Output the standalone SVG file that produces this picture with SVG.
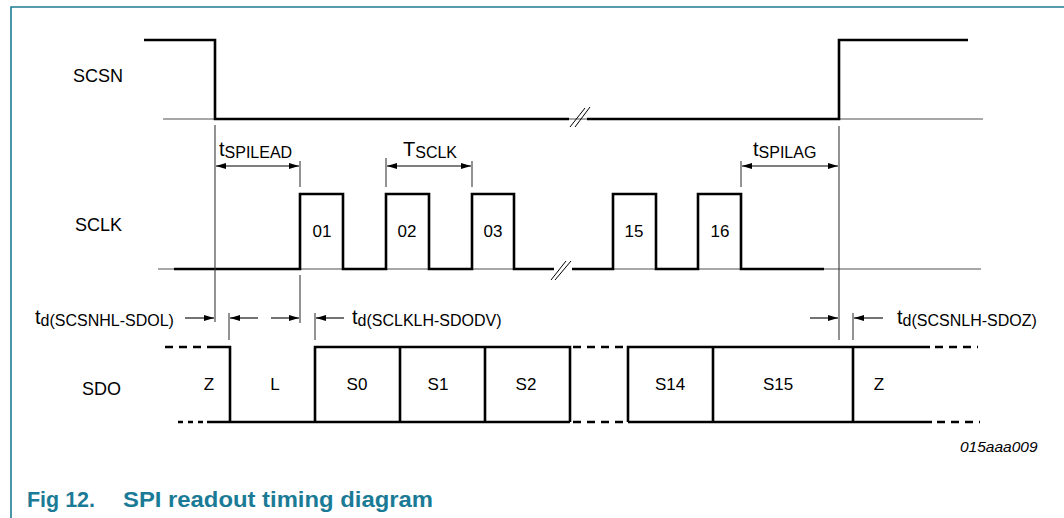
<svg xmlns="http://www.w3.org/2000/svg" width="1064" height="518" viewBox="0 0 1064 518">
<defs>
<style>
.lbl{font-family:"Liberation Sans",Arial,sans-serif;font-size:18px;fill:#000}
.num{font-family:"Liberation Sans",Arial,sans-serif;font-size:17px;fill:#000;text-anchor:middle}
.t{font-family:"Liberation Sans",Arial,sans-serif;font-size:20px;fill:#000}
.sub{font-size:16px}
.sig{fill:none;stroke:#000;stroke-width:2.6;stroke-linejoin:miter;stroke-linecap:butt}
.base{fill:none;stroke:#8a8a8a;stroke-width:1.6}
.vl{fill:none;stroke:#3a3a3a;stroke-width:1.1}
.arr{fill:none;stroke:#000;stroke-width:1.1}
.dash{fill:none;stroke:#000;stroke-width:2.6;stroke-dasharray:8 6}
.brk{fill:none;stroke:#000;stroke-width:1}
</style>
<marker id="ah" viewBox="0 0 10 6" refX="10" refY="3" markerWidth="10" markerHeight="6" markerUnits="userSpaceOnUse" orient="auto-start-reverse">
<path d="M0,0 L10,3 L0,6 Z" fill="#000"/>
</marker>
</defs>
<rect width="1064" height="518" fill="#fff"/>
<g id="frame">
<path d="M11,518 V7 H1064" fill="none" stroke="#1f7b93" stroke-width="1.6"/>
</g>
<g id="scsn">
<text class="lbl" x="73" y="82">SCSN</text>
<path class="base" d="M163,119 H983"/>
<path class="sig" d="M144,40 H215 V119 H569"/>
<path class="sig" d="M587,119 H839 V40 H968"/>
<path class="brk" d="M570,127 L585,108 M575,127 L590,107"/>
</g>
<g id="sclk">
<text class="lbl" x="75" y="231">SCLK</text>
<path class="base" d="M158,269 H554 M572,269 H981"/>
<path class="sig" d="M174,269 H300 V194 H343 V269 H386 V194 H429 V269 H472 V194 H514 V269 H554"/>
<path class="sig" d="M572,269 H613 V194 H656 V269 H698 V194 H741 V269 H824"/>
<path class="brk" d="M551,280 L566,261 M555,280 L571,261"/>
<text class="num" x="322" y="237">01</text>
<text class="num" x="407" y="237">02</text>
<text class="num" x="493" y="237">03</text>
<text class="num" x="634" y="237">15</text>
<text class="num" x="720" y="237">16</text>
</g>
<g id="sdo">
<text class="lbl" x="82" y="395">SDO</text>
<path class="dash" d="M165,347 H207"/>
<path class="dash" d="M178,422 H207" style="stroke-dasharray:5 5"/>
<path class="sig" d="M207,347 H230 V422 M207,422 H570 M315,422 V347 H570 V422 M400,347 V422 M485,347 V422"/>
<path class="dash" d="M573,347 H627 M573,422 H627"/>
<path class="sig" d="M628,422 V347 H930 M628,422 H932 M713,347 V422 M853,347 V422"/>
<path class="dash" d="M935,347 H978 M937,422 H980"/>
<text class="num" x="209" y="390">Z</text>
<text class="num" x="275" y="390">L</text>
<text class="num" x="357" y="390">S0</text>
<text class="num" x="438" y="390">S1</text>
<text class="num" x="526" y="390">S2</text>
<text class="num" x="670" y="390">S14</text>
<text class="num" x="778" y="390">S15</text>
<text class="num" x="879" y="390">Z</text>
</g>
<g id="connectors">
<path class="vl" d="M215,125 V322 M300,161 V187 M300,275 V323 M386,158 V187 M472,161 V187 M741,161 V187 M839,126 V340 M229,313 V340 M315,313 V340 M853,313 V340"/>
<path class="arr" d="M216,166 H299" marker-start="url(#ah)" marker-end="url(#ah)"/>
<path class="arr" d="M387,166 H471" marker-start="url(#ah)" marker-end="url(#ah)"/>
<path class="arr" d="M742,166 H838" marker-start="url(#ah)" marker-end="url(#ah)"/>
<path class="arr" d="M185,318 H214" marker-end="url(#ah)"/>
<path class="arr" d="M258,318 H230" marker-end="url(#ah)"/>
<path class="arr" d="M271,318 H299" marker-end="url(#ah)"/>
<path class="arr" d="M344,318 H316" marker-end="url(#ah)"/>
<path class="arr" d="M810,318 H838" marker-end="url(#ah)"/>
<path class="arr" d="M883,318 H854" marker-end="url(#ah)"/>
</g>
<g id="timing-labels">
<text class="t" x="219" y="156">t<tspan class="sub" dy="2">SPILEAD</tspan></text>
<text class="t" x="403" y="156">T<tspan class="sub" dy="2">SCLK</tspan></text>
<text class="t" x="753" y="156">t<tspan class="sub" dy="2">SPILAG</tspan></text>
<text class="t" x="35" y="324">t<tspan class="sub" dy="2">d(SCSNHL-SDOL)</tspan></text>
<text class="t" x="352" y="324">t<tspan class="sub" dy="2">d(SCLKLH-SDODV)</tspan></text>
<text class="t" x="897" y="324">t<tspan class="sub" dy="2">d(SCSNLH-SDOZ)</tspan></text>
</g>
<text x="960" y="452" font-family="Liberation Sans, Arial, sans-serif" font-size="15.5" font-style="italic" fill="#000">015aaa009</text>
<g id="caption" font-family="Liberation Sans, Arial, sans-serif" font-weight="bold" font-size="22.5" fill="#1b7b96">
<text x="27" y="507" textLength="68" lengthAdjust="spacingAndGlyphs">Fig 12.</text>
<text x="123" y="507" textLength="310" lengthAdjust="spacingAndGlyphs">SPI readout timing diagram</text>
</g>
</svg>
